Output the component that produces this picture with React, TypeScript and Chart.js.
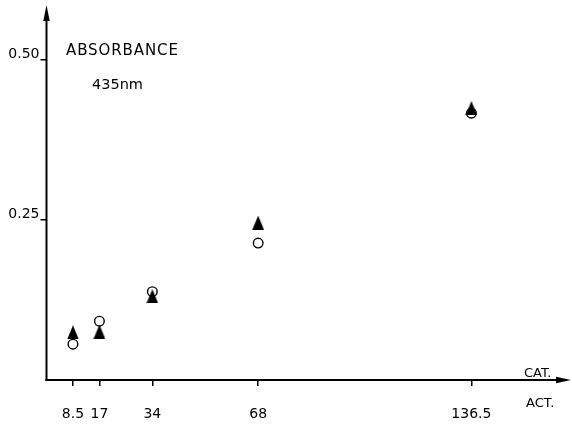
import React, { useEffect, useRef } from "react";
import { Chart, registerables } from "chart.js";
Chart.register(...registerables);

const xCategories = [8.5, 17, 34, 68, 136.5];
const xTickLabels = ["8.5", "17", "34", "68", "136.5"];
const yTicks = [0.25, 0.5];
const yTickLabels = ["0.25", "0.50"];
const filledTriangleValues = [0.0745, 0.0755, 0.131, 0.246, 0.425];
const openCircleValues = [0.056, 0.092, 0.138, 0.214, 0.417];
const yAxisTitle = "ABSORBANCE";
const yAxisSubtitle = "435nm";
const xAxisTitleTop = "CAT.";
const xAxisTitleBottom = "ACT.";

const FONT = '"DejaVu Sans", "Liberation Sans", Arial, sans-serif';
const INK = "#000";

function makeTriangle(): HTMLCanvasElement {
  const c = document.createElement("canvas");
  c.width = 12;
  c.height = 14;
  const ctx = c.getContext("2d")!;
  ctx.fillStyle = INK;
  ctx.beginPath();
  ctx.moveTo(6, 0);
  ctx.lineTo(11.8, 14);
  ctx.lineTo(0.2, 14);
  ctx.closePath();
  ctx.fill();
  return c;
}

const axesPlugin = {
  id: "axesArrows",
  afterDraw(chart: any) {
    const { ctx, chartArea } = chart;
    const { left, top, bottom } = chartArea;
    const right = 571;
    ctx.save();
    ctx.strokeStyle = INK;
    ctx.fillStyle = INK;
    ctx.lineWidth = 2;
    // x axis
    ctx.beginPath();
    ctx.moveTo(left - 1, bottom);
    ctx.lineTo(right - 8, bottom);
    ctx.stroke();
    ctx.beginPath();
    ctx.moveTo(right, bottom);
    ctx.lineTo(right - 15, bottom - 3.2);
    ctx.lineTo(right - 15, bottom + 3.2);
    ctx.closePath();
    ctx.fill();
    // y axis
    ctx.beginPath();
    ctx.moveTo(left, bottom + 1);
    ctx.lineTo(left, top + 8);
    ctx.stroke();
    ctx.beginPath();
    ctx.moveTo(left, top);
    ctx.lineTo(left - 3.2, top + 16);
    ctx.lineTo(left + 3.2, top + 16);
    ctx.closePath();
    ctx.fill();

    // texts
    ctx.textBaseline = "alphabetic";
    ctx.textAlign = "left";
    (ctx as any).letterSpacing = "0.9px";
    ctx.font = `15px ${FONT}`;
    ctx.fillText(yAxisTitle, 66, 54.5);
    (ctx as any).letterSpacing = "0px";
    ctx.font = `14.5px ${FONT}`;
    ctx.fillText(yAxisSubtitle, 92, 88.5);
    ctx.font = `13px ${FONT}`;
    ctx.fillText(xAxisTitleTop, 524, 376.5);
    ctx.fillText(xAxisTitleBottom, 526, 406.5);
    ctx.restore();
  },
};

export default function App() {
  const ref = useRef<HTMLCanvasElement | null>(null);
  useEffect(() => {
    if (!ref.current) return;
    const tri = makeTriangle();
    const chart = new Chart(ref.current, {
      type: "scatter",
      data: {
        datasets: [
          {
            label: "filled",
            data: xCategories.map((x, i) => ({ x, y: filledTriangleValues[i] })),
            pointStyle: tri as any,
            pointRadius: 7,
            backgroundColor: INK,
            borderColor: INK,
          },
          {
            label: "open",
            data: xCategories.map((x, i) => ({ x, y: openCircleValues[i] })),
            pointStyle: "circle",
            pointRadius: 4.8,
            borderWidth: 1.4,
            backgroundColor: "rgba(0,0,0,0)",
            borderColor: INK,
          },
        ],
      },
      options: {
        animation: false,
        responsive: false,
        events: [],
        layout: { autoPadding: false, padding: { left: 0, top: 5, right: 1, bottom: 0 } },
        plugins: { legend: { display: false }, tooltip: { enabled: false } },
        scales: {
          x: {
            type: "linear",
            min: 0,
            max: 168.5,
            afterBuildTicks: (s: any) => {
              s.ticks = xCategories.map((v) => ({ value: v }));
            },
            afterFit: (s: any) => {
              s.height = 44;
              s.paddingLeft = 0;
              s.paddingRight = 0;
            },
            ticks: {
              callback: (_v: any, i: number) => xTickLabels[i],
              font: { family: FONT, size: 14 },
              color: INK,
              padding: 20,
              maxRotation: 0,
              autoSkip: false,
            },
            grid: {
              drawOnChartArea: false,
              drawTicks: true,
              tickLength: 6,
              color: INK,
              lineWidth: 1.5,
            },
            border: { display: false },
          },
          y: {
            type: "linear",
            min: 0,
            max: 0.586,
            afterBuildTicks: (s: any) => {
              s.ticks = yTicks.map((v) => ({ value: v }));
            },
            afterFit: (s: any) => {
              s.width = 46.5;
              s.paddingTop = 0;
              s.paddingBottom = 0;
            },
            ticks: {
              callback: (_v: any, i: number) => yTickLabels[i],
              font: { family: FONT, size: 14 },
              color: INK,
              padding: 1,
              labelOffset: -6,
            },
            grid: {
              drawOnChartArea: false,
              drawTicks: true,
              tickLength: 6,
              color: INK,
              lineWidth: 1.5,
            },
            border: { display: false },
          },
        },
      },
      plugins: [axesPlugin],
    } as any);
    return () => chart.destroy();
  }, []);
  return (
    <canvas
      ref={ref}
      width={572}
      height={424}
      style={{ position: "absolute", left: 0, top: 0, display: "block", background: "#fff" }}
    />
  );
}
